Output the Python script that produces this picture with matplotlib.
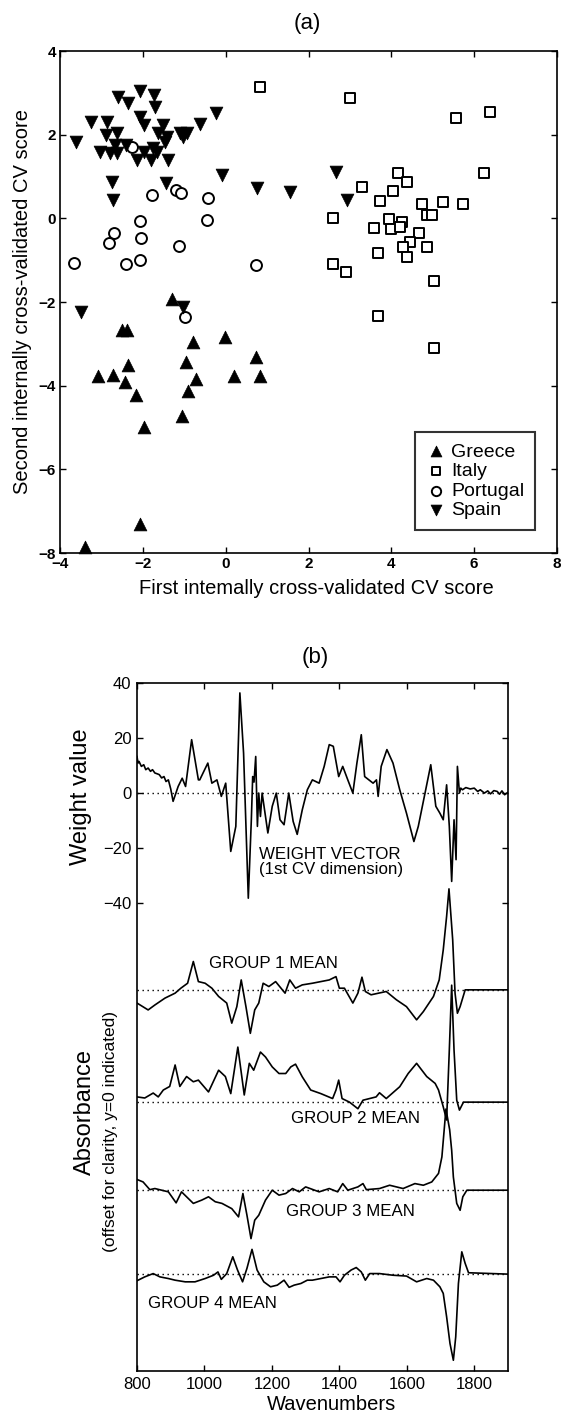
import matplotlib
matplotlib.use("Agg")
import matplotlib.pyplot as plt
import numpy as np

plt.rcParams['font.family'] = ['Liberation Sans', 'DejaVu Sans']

# ---------------- Panel (a) data: CV scores ----------------
greece_x = [-1.30, -2.51, -2.39, -0.78, -0.02, -2.35, -0.95, 0.74, -3.09, -2.71,
            -2.43, -0.72, 0.21, 0.84, -2.16, -0.91, -1.97, -1.06, -2.08, -3.40]
greece_y = [-1.92, -2.66, -2.67, -2.95, -2.83, -3.51, -3.43, -3.31, -3.78, -3.75,
            -3.91, -3.83, -3.78, -3.78, -4.23, -4.13, -4.99, -4.73, -7.30, -7.86]

italy_x = [0.82, 3.01, 5.55, 6.39, 6.23, 4.15, 4.37, 3.29, 4.03, 3.73, 4.74, 5.25,
           5.72, 4.86, 4.98, 2.60, 3.95, 4.25, 3.57, 3.98, 4.22, 4.66, 4.46, 4.28,
           4.86, 3.67, 4.39, 2.58, 2.91, 5.04, 3.69, 5.03]
italy_y = [3.15, 2.87, 2.39, 2.55, 1.09, 1.09, 0.87, 0.75, 0.66, 0.41, 0.34, 0.38,
           0.34, 0.08, 0.08, 0.00, -0.02, -0.08, -0.23, -0.26, -0.20, -0.36, -0.56, -0.68,
           -0.68, -0.82, -0.92, -1.10, -1.28, -1.49, -2.34, -3.11]

portugal_x = [-3.66, -2.27, -1.78, -1.20, -1.08, -0.42, -2.06, -0.45, -2.70, -2.81,
              -2.05, -1.12, -2.40, -2.08, 0.74, -0.98]
portugal_y = [-1.06, 1.71, 0.56, 0.67, 0.60, 0.49, -0.06, -0.04, -0.35, -0.59,
              -0.46, -0.67, -1.08, -1.00, -1.12, -2.36]

spain_x = [-3.61, -3.25, -2.86, -2.59, -2.35, -2.08, -1.73, -1.71, -2.89, -2.63,
           -2.06, -1.98, -1.51, -1.63, -1.42, -1.10, -0.94, -1.02, -0.62, -0.23,
           -3.04, -2.79, -2.63, -2.67, -2.40, -2.13, -1.98, -1.81, -1.75, -1.67,
           -1.40, -1.47, -2.75, -2.71, -1.44, -0.10, 0.76, 1.56, 2.66, 2.94,
           -3.50, -1.02]
spain_y = [1.83, 2.31, 2.31, 2.91, 2.75, 3.04, 2.96, 2.67, 1.99, 2.03,
           2.43, 2.23, 2.23, 2.03, 1.95, 2.03, 2.03, 1.95, 2.25, 2.51,
           1.59, 1.55, 1.55, 1.75, 1.75, 1.39, 1.59, 1.39, 1.67, 1.59,
           1.39, 1.83, 0.87, 0.44, 0.85, 1.03, 0.72, 0.63, 1.11, 0.44,
           -2.24, -2.12]

country_labels = ['Greece', 'Italy', 'Portugal', 'Spain']

# ---------------- Panel (b) data: weight vector and group means ----------------
weight_wn = [800, 803, 806, 813, 820, 826, 833, 840, 846, 853, 860, 866, 873, 880, 886,
             893, 900, 907, 922, 934, 944, 962, 982, 986, 1010, 1022, 1037, 1050, 1063,
             1078, 1093, 1105, 1116, 1130, 1139, 1143, 1147, 1152, 1157, 1161, 1166,
             1171, 1181, 1188, 1201, 1213, 1224, 1236, 1250, 1263, 1275, 1290, 1305,
             1320, 1340, 1355, 1370, 1382, 1398, 1410, 1425, 1440, 1452, 1465, 1475,
             1500, 1510, 1515, 1524, 1541, 1559, 1579, 1599, 1621, 1634, 1654, 1671,
             1686, 1698, 1708, 1718, 1726, 1733, 1740, 1746, 1750, 1756, 1760, 1765,
             1775, 1788, 1800, 1810, 1818, 1830, 1840, 1848, 1858, 1868, 1875, 1882,
             1890, 1900]
weight_val = [13.3, 10.9, 11.5, 9.7, 10.3, 8.5, 9.1, 7.9, 8.5, 7.3, 7.0, 6.7, 5.5, 6.0, 4.2,
              4.8, 1.5, -3.0, 2.4, 5.4, 2.4, 19.4, 4.8, 4.8, 10.9, 3.6, 4.8, -1.2, 3.6,
              -21.2, -12.1, 36.4, 14.5, -38.2, -9.7, 6.0, 4.0, 13.3, -12.1, 0.0, -8.5,
              0.0, -8.5, -14.5, -4.8, 0.0, -9.7, -11.5, 0.0, -10.3, -15.0, -6.1, 1.2,
              4.8, 3.6, 9.7, 17.6, 17.0, 6.0, 9.7, 4.8, 0.0, 10.9, 21.2, 6.0,
              3.6, 4.8, -1.2, 9.7, 15.8, 10.9, 1.2, -7.3, -17.6, -12.1, 0.0, 10.3,
              -4.8, -7.3, -9.7, 3.0, -12.1, -32.1, -9.7, -24.2, 9.7, 0.0, 1.8, 1.2,
              2.0, 1.5, 1.8, 0.6, 1.2, 0.0, 0.8, -0.3, 0.9, 0.6, -0.4, 0.8,
              -0.6, 0.3]

group1_wn = [800, 833, 853, 883, 913, 930, 950, 967, 982, 1002, 1022, 1042, 1066, 1081,
             1096, 1109, 1123, 1136, 1149, 1161, 1174, 1191, 1211, 1223, 1239, 1253, 1270,
             1290, 1320, 1370, 1390, 1400, 1415, 1440, 1455, 1467, 1477, 1494, 1539, 1569,
             1599, 1629, 1649, 1679, 1696, 1708, 1718, 1725, 1736, 1743, 1750, 1758, 1773,
             1900]
group1_val = [-4.8, -7.3, -5.5, -3.0, -1.2, 0.6, 2.4, 10.3, 3.0, 2.4, 0.6, -2.4, -4.8, -12.1,
              -6.1, 3.6, -6.1, -15.8, -7.3, -4.8, 2.4, 1.2, 3.0, 1.2, -1.2, 3.6, 0.6,
              1.8, 2.4, 3.6, 4.8, 0.6, 0.6, -4.8, -1.2, 4.6, -0.6, -1.8, -0.6, -3.6,
              -6.1, -10.9, -7.9, -2.4, 3.6, 14.5, 26.7, 36.7, 18.2, -1.2, -8.5, -6.1, 0.0,
              0.0]

group2_wn = [800, 823, 848, 863, 878, 897, 913, 927, 947, 967, 982, 1012, 1042, 1062, 1078,
             1099, 1118, 1133, 1146, 1166, 1181, 1201, 1221, 1241, 1256, 1270, 1290, 1315,
             1345, 1380, 1390, 1398, 1408, 1430, 1455, 1470, 1509, 1519, 1539, 1579, 1604,
             1629, 1659, 1684, 1694, 1708, 1718, 1726, 1733, 1740, 1748, 1756, 1768, 1900]
group2_val = [1.9, 1.5, 3.3, 1.9, 4.4, 5.7, 13.5, 5.7, 9.3, 7.4, 8.0, 3.7, 11.6, 9.3, 3.1,
              20.0, 2.6, 14.1, 11.6, 18.2, 16.4, 12.8, 10.4, 10.4, 12.8, 13.8, 9.2, 4.4,
              3.1, 1.3, 4.4, 8.0, 1.3, 0.0, -2.4, 0.7, 1.9, 3.4, 1.3, 5.6, 10.4,
              14.1, 9.3, 6.8, 4.4, -1.7, -6.5, 18.9, 42.5, 18.9, 0.7, -2.9, 0.0, 0.0]

group3_wn = [800, 818, 838, 853, 873, 893, 916, 932, 947, 967, 992, 1012, 1032, 1052, 1081,
             1101, 1114, 1126, 1138, 1149, 1161, 1181, 1201, 1221, 1241, 1261, 1281, 1300,
             1340, 1370, 1395, 1410, 1425, 1455, 1470, 1480, 1519, 1549, 1589, 1624, 1649,
             1674, 1694, 1704, 1716, 1727, 1733, 1738, 1748, 1758, 1766, 1778, 1900]
group3_val = [3.9, 3.0, 0.2, 0.6, 0.0, -0.6, -4.6, -0.6, -2.4, -4.8, -3.6, -2.4, -4.2, -4.8, -6.7,
              -9.7, -1.2, -9.1, -17.6, -10.9, -9.1, -3.6, 0.0, -1.8, -1.2, 0.6, -0.6, 1.2,
              -0.6, 0.6, -0.6, 2.4, 0.0, 1.2, 2.4, 0.2, 0.6, 1.8, 0.6, 2.4, 1.8,
              3.0, 6.1, 12.1, 29.5, 22.0, 14.5, 4.8, -4.8, -7.3, -2.4, 0.0, 0.0]

group4_wn = [800, 823, 848, 868, 893, 913, 943, 972, 1002, 1027, 1040, 1050, 1066, 1084,
             1098, 1113, 1126, 1141, 1156, 1176, 1196, 1216, 1236, 1251, 1266, 1286, 1305,
             1320, 1370, 1390, 1402, 1415, 1435, 1450, 1465, 1477, 1490, 1519, 1559, 1599,
             1629, 1659, 1679, 1698, 1708, 1718, 1728, 1738, 1745, 1753, 1763, 1773, 1783,
             1900]
group4_val = [-2.4, -1.0, 0.2, -1.0, -1.6, -2.2, -2.8, -2.8, -1.6, -0.4, 0.8, -1.9, 0.2, 6.3,
              1.5, -2.8, 2.1, 9.0, 1.5, -2.8, -4.6, -4.0, -2.2, -4.8, -4.0, -3.4, -2.2,
              -2.2, -1.0, -1.0, -2.8, -0.4, 1.5, 2.4, 0.8, -2.2, 0.2, 0.2, -0.4, -0.7,
              -2.8, -1.6, -2.2, -4.6, -7.0, -15.5, -25.2, -31.3, -22.8, -3.4, 8.1, 3.9, 0.5,
              0.0]

group_offsets = [-71.5, -112.3, -144.3, -174.8]
group_labels = ['GROUP 1 MEAN', 'GROUP 2 MEAN', 'GROUP 3 MEAN', 'GROUP 4 MEAN']

# ---------------- Figure ----------------
W, H = 562, 1413
fig = plt.figure(figsize=(W / 100, H / 100), dpi=100)


def fx(px):
    return px / W


def fy(py):
    return 1 - py / H


# ---- Panel (a) ----
ax1 = fig.add_axes([fx(60), fy(553), fx(557) - fx(60), fy(51) - fy(553)])
ax1.scatter(greece_x, greece_y, marker='^', s=85, c='black', edgecolors='black',
            linewidths=0.5, label=country_labels[0], zorder=3, clip_on=False)
ax1.scatter(italy_x, italy_y, marker='s', s=58, facecolors='white', edgecolors='black',
            linewidths=1.4, label=country_labels[1], zorder=3)
ax1.scatter(portugal_x, portugal_y, marker='o', s=62, facecolors='white', edgecolors='black',
            linewidths=1.4, label=country_labels[2], zorder=3)
ax1.scatter(spain_x, spain_y, marker='v', s=85, c='black', edgecolors='black',
            linewidths=0.5, label=country_labels[3], zorder=4)
ax1.set_xlim(-4, 8)
ax1.set_ylim(-8, 4)
ax1.set_xticks(range(-4, 9, 2))
ax1.set_yticks(range(-8, 5, 2))
ax1.tick_params(direction='in', top=True, right=True, length=4, width=1,
                labelsize=11, pad=3)
for lab in ax1.get_xticklabels() + ax1.get_yticklabels():
    lab.set_fontweight('bold')
for sp in ax1.spines.values():
    sp.set_linewidth(1.2)

leg = ax1.legend(loc='lower right', bbox_to_anchor=(0.956, 0.046), borderaxespad=0,
                 fontsize=14, frameon=True, fancybox=False, handlelength=1.0,
                 handletextpad=0.3, labelspacing=0.1, borderpad=0.55,
                 scatterpoints=1, markerscale=0.85)
leg.get_frame().set_edgecolor('black')
leg.get_frame().set_linewidth(1.5)

fig.text(fx(307), fy(24), '(a)', ha='center', va='center', fontsize=16)
fig.text(fx(316), fy(588), 'First intemally cross-validated CV score',
         ha='center', va='center', fontsize=14.5)
fig.text(fx(23), fy(302), 'Second internally cross-validated CV score',
         ha='center', va='center', fontsize=14.5, rotation=90)

# ---- Panel (b) ----
ax2 = fig.add_axes([fx(137), fy(1371), fx(508) - fx(137), fy(683) - fy(1371)])
dots = (0, (1.0, 2.6))
ax2.axhline(0, color='black', lw=1.0, ls=dots, zorder=1)
ax2.plot(weight_wn, weight_val, color='black', lw=1.2, zorder=2)

group_wns = [group1_wn, group2_wn, group3_wn, group4_wn]
group_vals = [group1_val, group2_val, group3_val, group4_val]
for wn, vals, off in zip(group_wns, group_vals, group_offsets):
    ax2.axhline(off, color='black', lw=1.0, ls=dots, zorder=1)
    ax2.plot(wn, np.asarray(vals) + off, color='black', lw=1.2, zorder=2)

ax2.set_xlim(800, 1900)
ax2.set_ylim(-210, 40)
ax2.set_xticks(range(800, 1801, 200))
ax2.set_yticks([-40, -20, 0, 20, 40])
ax2.tick_params(direction='in', top=True, right=True, length=4, width=1,
                labelsize=12, pad=4)
for sp in ax2.spines.values():
    sp.set_linewidth(1.2)

ax2.text(1161, -22.4, 'WEIGHT VECTOR', ha='left', va='center', fontsize=12.2)
ax2.text(1161, -27.6, '(1st CV dimension)', ha='left', va='center', fontsize=12.2)
label_pos = [(1012, -61.8), (1258, -118.4), (1241, -152.1), (833, -185.5)]
for (lx, ly), txt in zip(label_pos, group_labels):
    ax2.text(lx, ly, txt, ha='left', va='center', fontsize=12.2)

fig.text(fx(315), fy(658), '(b)', ha='center', va='center', fontsize=16)
fig.text(fx(81), fy(797), 'Weight value', ha='center', va='center', fontsize=17,
         rotation=90)
fig.text(fx(85), fy(1112), 'Absorbance', ha='center', va='center', fontsize=17,
         rotation=90)
fig.text(fx(111), fy(1132), '(offset for clarity, y=0 indicated)', ha='center',
         va='center', fontsize=12.5, rotation=90)
fig.text(fx(332), fy(1404), 'Wavenumbers', ha='center', va='center', fontsize=14.5)

fig.savefig('out.png', dpi=100, facecolor='white')
